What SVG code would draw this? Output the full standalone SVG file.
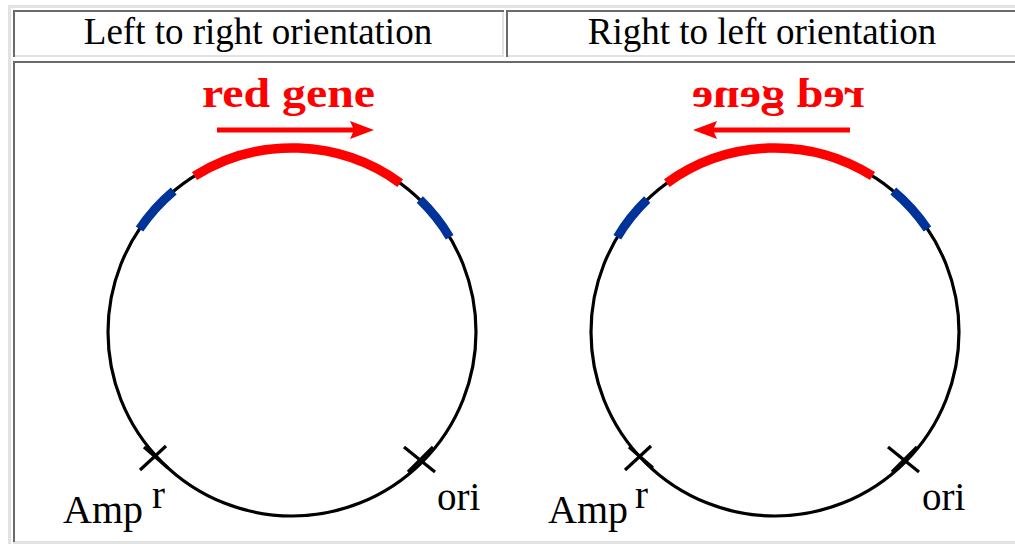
<svg xmlns="http://www.w3.org/2000/svg" width="1015" height="544" viewBox="0 0 1015 544">
  <style>
    .dk { fill: #6b6b6b; }
    .lt { fill: #e2e2e2; }
    .hdr { font-family: "Liberation Serif", "Times New Roman", serif; font-size: 37px; fill: #000; text-anchor: middle; }
    .lbl { font-family: "Liberation Serif", "Times New Roman", serif; font-size: 39px; fill: #000; }
    .ring { fill: none; stroke: #000; stroke-width: 3.2; }
    .red { fill: none; stroke: #ff0000; stroke-width: 9.5; }
    .blue { fill: none; stroke: #003399; stroke-width: 9; }
    .xm { stroke: #000; stroke-width: 3.2; }
    .rg { font-family: "Liberation Serif", "Times New Roman", serif; font-size: 42px; font-weight: bold; fill: #ff0000; }
  </style>
  <rect width="1015" height="544" fill="#ffffff"/>
  <g id="table">
    <rect class="lt" x="8" y="5" width="1007" height="3"/>
    <rect class="lt" x="8" y="5" width="3" height="539"/>
    <rect class="lt" x="13" y="55" width="491" height="2"/>
    <rect class="lt" x="502" y="10" width="2" height="47"/>
    <rect class="dk" x="13" y="10" width="491" height="2"/>
    <rect class="dk" x="13" y="10" width="2" height="47"/>
    <rect class="lt" x="506" y="55" width="509" height="2"/>
    <rect class="dk" x="506" y="10" width="509" height="2"/>
    <rect class="dk" x="506" y="10" width="2" height="47"/>
    <rect class="lt" x="13" y="541" width="1002" height="3"/>
    <rect class="dk" x="13" y="61" width="1002" height="2"/>
    <rect class="dk" x="13" y="61" width="2" height="481"/>
  </g>
  <g id="header-left"><text class="hdr" x="258" y="44">Left to right orientation</text></g>
  <g id="header-right"><text class="hdr" x="762" y="44">Right to left orientation</text></g>
  <defs>
    <g id="plasmid">
      <circle class="ring" cx="292" cy="332" r="184"/>
      <path class="red" d="M 194.5 176 A 184 184 0 0 1 400.2 183.1"/>
      <path class="blue" d="M 139.5 229.1 A 184 184 0 0 1 173.7 191"/>
      <path class="blue" d="M 419.8 199.6 A 184 184 0 0 1 449.7 237.2"/>
      <line x1="217" y1="130" x2="356" y2="130" stroke="#ff0000" stroke-width="5"/>
      <polygon points="350,121 374,130 350,139 354,130" fill="#ff0000"/>
      <text class="rg" x="202" y="107" textLength="173" lengthAdjust="spacingAndGlyphs">red gene</text>
    </g>
  </defs>
  <g id="plasmid-left">
    <use href="#plasmid"/>
    <line class="xm" x1="140" y1="470" x2="166" y2="446"/>
    <line class="xm" x1="144" y1="447" x2="168" y2="468"/>
    <line class="xm" x1="404" y1="447" x2="435" y2="472"/>
    <line class="xm" x1="408" y1="472" x2="433" y2="447"/>
    <text class="lbl" x="63" y="523" textLength="80" lengthAdjust="spacingAndGlyphs">Amp</text>
    <text class="lbl" x="152" y="508">r</text>
    <text class="lbl" x="437" y="510">ori</text>
  </g>
  <g id="plasmid-right">
    <use href="#plasmid" transform="matrix(-1 0 0 1 1067 0)"/>
    <line class="xm" x1="625" y1="470" x2="651" y2="446"/>
    <line class="xm" x1="629" y1="447" x2="653" y2="468"/>
    <line class="xm" x1="888" y1="447" x2="919" y2="472"/>
    <line class="xm" x1="892" y1="472" x2="917" y2="447"/>
    <text class="lbl" x="548" y="523" textLength="80" lengthAdjust="spacingAndGlyphs">Amp</text>
    <text class="lbl" x="635" y="508">r</text>
    <text class="lbl" x="922" y="510">ori</text>
  </g>
  <g id="connectors"/>
</svg>
